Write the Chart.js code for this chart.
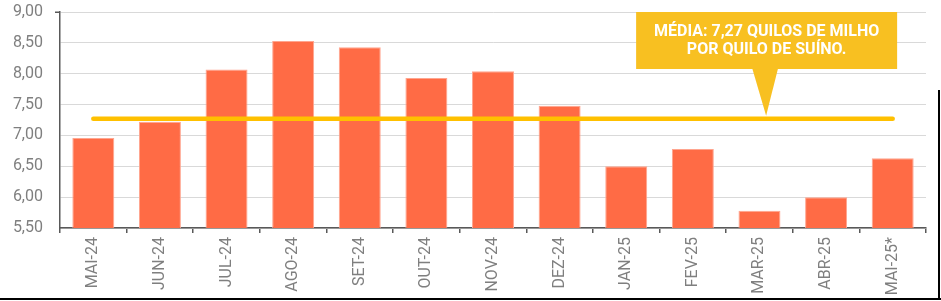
<!DOCTYPE html>
<html lang="pt-BR">
<head>
<meta charset="utf-8">
<script src="https://cdn.jsdelivr.net/npm/chart.js@4"></script>
<style>
  html, body { margin: 0; padding: 0; background: #fff; }
  #wrap { position: relative; width: 941px; height: 301px; }
</style>
</head>
<body>
<div id="wrap"><canvas id="chart"></canvas></div>
<script>
const CATEGORIES = [
  'MAI-24', 'JUN-24', 'JUL-24', 'AGO-24', 'SET-24', 'OUT-24', 'NOV-24',
  'DEZ-24', 'JAN-25', 'FEV-25', 'MAR-25', 'ABR-25', 'MAI-25*',
];
// kg de milho por kg de suíno
const RATIO = [6.96, 7.22, 8.07, 8.53, 8.43, 7.93, 8.04, 7.48, 6.50, 6.78, 5.78, 6.00, 6.63];
const AVERAGE = 7.27;
const Y_MIN = 5.5;
const Y_MAX = 9.0;
const Y_STEP = 0.5;
const CALLOUT_LINES = ['MÉDIA: 7,27 QUILOS DE MILHO', 'POR QUILO DE SUÍNO.'];
const CALLOUT_AT = 10.1; // category position of the pointer tip

const BAR_COLOR = '#ff6b45';
const AVG_COLOR = '#ffc000';
const CALLOUT_COLOR = '#f8c021';
const TEXT_GRAY = '#7f7f7f';
const AXIS_GRAY = '#595959';

const fmt = v => v.toFixed(2).replace('.', ',');

const calloutPlugin = {
  id: 'callout',
  afterDatasetsDraw(chart) {
    const { ctx } = chart;
    const xs = chart.scales.x, ys = chart.scales.y;
    const tipX = xs.getPixelForValue(CALLOUT_AT);
    const tipY = ys.getPixelForValue(AVERAGE) - 3;
    const top = ys.getPixelForValue(Y_MAX);
    const bottom = top + 57;
    const left = tipX - 130, right = tipX + 131;

    ctx.save();
    ctx.fillStyle = CALLOUT_COLOR;
    ctx.fillRect(left, top, right - left, bottom - top);
    ctx.beginPath();
    ctx.moveTo(tipX - 14, bottom - 1);
    ctx.lineTo(tipX + 12, bottom - 1);
    ctx.lineTo(tipX, tipY);
    ctx.closePath();
    ctx.fill();

    ctx.fillStyle = '#ffffff';
    ctx.font = 'bold 16px Roboto';
    ctx.textAlign = 'center';
    ctx.textBaseline = 'alphabetic';
    const cx = (left + right) / 2;
    ctx.fillText(CALLOUT_LINES[0], cx, top + 23.5);
    ctx.fillText(CALLOUT_LINES[1], cx, top + 42);
    ctx.restore();
  },
};

const framePlugin = {
  id: 'frame',
  afterDraw(chart) {
    const { ctx, width, height } = chart;
    ctx.save();
    ctx.fillStyle = '#000';
    ctx.fillRect(0, height - 3, width, 2);
    ctx.fillRect(width - 3, 90, 2, height - 91);
    // small cap at the top of the value axis
    ctx.fillStyle = AXIS_GRAY;
    const a = chart.chartArea;
    ctx.fillRect(a.left - 5, a.top - 0.5, 5, 1.5);
    ctx.restore();
  },
};

new Chart(document.getElementById('chart'), {
  data: {
    labels: CATEGORIES,
    datasets: [
      {
        type: 'line',
        data: CATEGORIES.map(() => AVERAGE),
        borderColor: AVG_COLOR,
        borderWidth: 4.5,
        borderCapStyle: 'round',
        pointRadius: 0,
        order: 0,
      },
      {
        type: 'bar',
        data: RATIO,
        backgroundColor: BAR_COLOR,
        borderColor: '#ffa58f',
        borderWidth: 1,
        categoryPercentage: 1,
        barPercentage: 0.63,
        order: 1,
      },
    ],
  },
  options: {
    responsive: true,
    maintainAspectRatio: false,
    animation: false,
    layout: { padding: { top: 0, right: 15, left: 0, bottom: 0 } },
    plugins: { legend: { display: false }, tooltip: { enabled: false } },
    scales: {
      x: {
        offset: true,
        afterFit: s => { s.height = 73; },
        grid: {
          offset: true,
          drawOnChartArea: false,
          drawTicks: true,
          tickLength: 5,
          color: AXIS_GRAY,
          lineWidth: 1.5,
        },
        border: { color: AXIS_GRAY, width: 1.5 },
        ticks: {
          color: TEXT_GRAY,
          font: { family: 'Roboto', size: 16 },
          minRotation: 90,
          maxRotation: 90,
          padding: 4,
          autoSkip: false,
        },
      },
      y: {
        min: Y_MIN,
        max: Y_MAX,
        afterFit: s => { s.width = 60; s.paddingTop = 12; s.paddingBottom = 10; },
        grid: { color: '#d9d9d9', lineWidth: 1, drawTicks: false },
        border: { color: AXIS_GRAY, width: 1.5 },
        ticks: {
          stepSize: Y_STEP,
          color: TEXT_GRAY,
          font: { family: 'Roboto', size: 16 },
          padding: 17,
          callback: v => fmt(v),
        },
      },
    },
  },
  plugins: [calloutPlugin, framePlugin],
});
</script>
</body>
</html>
